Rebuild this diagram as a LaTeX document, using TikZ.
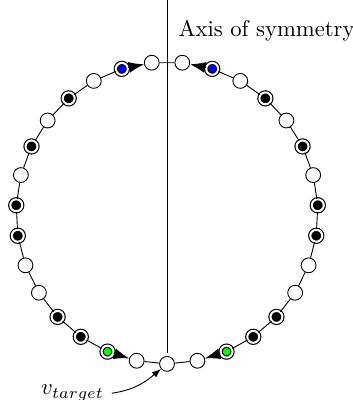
\documentclass[tikz,border=0pt]{standalone}
\usetikzlibrary{arrows.meta}
\usetikzlibrary{math}

\tikzset{
  vwhite/.style={circle,draw,fill=white,minimum size=0.23cm,inner sep=0pt},
  vblack/.style={circle,draw,line width=0.5pt,double=white,double distance=0.9pt,fill=black,minimum size=0.185cm,inner sep=0pt},
  vgreen/.style={vblack,fill=green},
  vblue/.style={vblack,fill=blue},
  bigtip/.style={-{Latex[length=0.24cm,width=0.17cm]}},
}

\begin{document}
\begin{tikzpicture}
\tikzmath{
\R=2.34;
\n=31;
\d=360/\n;
}
\useasboundingbox (-2.589,-2.90) rectangle (2.868,3.30);

% axis
\coordinate (atop) at (0,3.30);
\coordinate (abot) at (0,-2.17);
\draw (atop) -- (abot);
\node[anchor=base west] (axislabel) at (0.054,2.728) {Axis of symmetry};

% vertices
\node[vwhite] (vt) at (270:\R) {};
\foreach \k/\t in {1/vwhite,2/vgreen,3/vblack,4/vblack,5/vwhite,6/vwhite,7/vblack,8/vblack,
                   9/vwhite,10/vblack,11/vwhite,12/vblack,13/vwhite,14/vblue,15/vwhite}{
  \node[\t] (l\k) at (270-\k*\d:\R) {};
  \node[\t] (r\k) at (270+\k*\d:\R) {};
}

% edges
\draw (vt) -- (l1) (vt) -- (r1) (l15) -- (r15);
\foreach \k [evaluate=\k as \j using int(\k+1)] in {2,...,13}{
  \draw (l\k) -- (l\j);
  \draw (r\k) -- (r\j);
}
\draw[bigtip] (l2) -- (l1);
\draw[bigtip] (r2) -- (r1);
\draw[bigtip] (l14) -- (l15);
\draw[bigtip] (r14) -- (r15);

% target
\node[anchor=base] (vlabel) at (-1.465,-2.82) {$v_{target}$};
\draw[-{Latex[length=4pt,width=3pt]}] (vlabel.east) to[out=8,in=220] (vt);
\end{tikzpicture}
\end{document}
